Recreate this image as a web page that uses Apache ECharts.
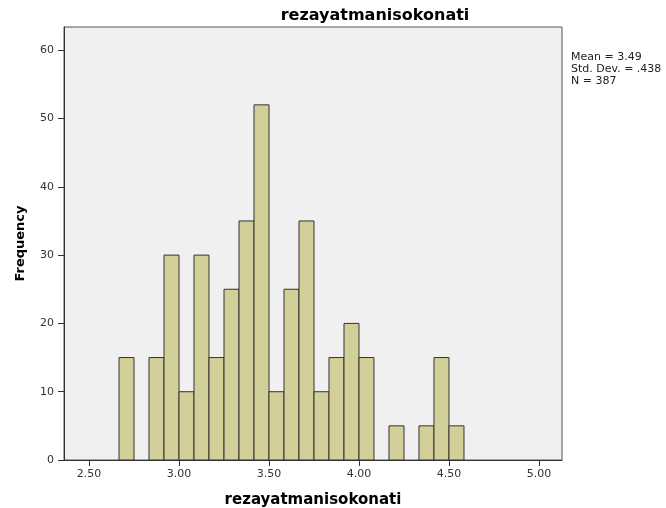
<!DOCTYPE html>
<html>
<head>
<meta charset="utf-8">
<script src="https://cdn.jsdelivr.net/npm/echarts@6/dist/echarts.min.js"></script>
<style>
  html, body { margin: 0; padding: 0; background: #fff; }
  #chart { width: 666px; height: 508px; }
</style>
</head>
<body>
<div id="chart"></div>
<script>
// histogram bins (lower edges), width 1/12
const binStarts = [2.6667, 2.8333, 2.9167, 3.0000, 3.0833, 3.1667, 3.2500, 3.3333, 3.4167, 3.5000,
                   3.5833, 3.6667, 3.7500, 3.8333, 3.9167, 4.0000, 4.1667, 4.3333, 4.4167, 4.5000];
const counts = [15, 15, 30, 10, 30, 15, 25, 35, 52, 10,
                25, 35, 10, 15, 20, 15, 5, 5, 15, 5];
const binWidth = 0.08333;
const xTicks = [2.5, 3.0, 3.5, 4.0, 4.5, 5.0];
const yTicks = [0, 10, 20, 30, 40, 50, 60];
const statLines = ['Mean = 3.49', 'Std. Dev. = .438', 'N = 387'];

const font = '"DejaVu Sans", sans-serif';
const chart = echarts.init(document.getElementById('chart'));

const barData = binStarts.map((s, i) => [s, s + binWidth, counts[i]]);

chart.setOption({
  animation: false,
  textStyle: { fontFamily: font },
  title: {
    text: 'rezayatmanisokonati',
    left: 370,
    top: 3,
    textAlign: 'center',
    textStyle: { fontSize: 16, fontWeight: 'bold', color: '#000', fontFamily: font }
  },
  graphic: [{
    type: 'text',
    left: 571,
    top: 51,
    style: {
      text: statLines.join('\n'),
      fontSize: 11,
      lineHeight: 12,
      fill: '#222',
      fontFamily: font
    }
  }],
  grid: {
    left: 64, right: 104, top: 27, bottom: 48,
    outerBoundsMode: 'none',
    show: true,
    backgroundColor: '#f0f0f0',
    borderColor: '#555',
    borderWidth: 1
  },
  xAxis: {
    type: 'value',
    min: 2.361,
    max: 5.128,
    name: 'rezayatmanisokonati',
    nameLocation: 'middle',
    nameGap: 33,
    nameTextStyle: { fontSize: 15, fontWeight: 'bold', color: '#000', fontFamily: font },
    axisLine: { show: true, lineStyle: { color: '#333', width: 1 } },
    axisTick: { show: true, length: 6, customValues: xTicks, lineStyle: { color: '#333' } },
    axisLabel: {
      customValues: xTicks,
      formatter: v => v.toFixed(2),
      fontSize: 11,
      color: '#333',
      margin: 9
    },
    splitLine: { show: false }
  },
  yAxis: {
    type: 'value',
    min: 0,
    max: 63.4,
    name: 'Frequency',
    nameLocation: 'middle',
    nameGap: 37,
    nameTextStyle: { fontSize: 13, fontWeight: 'bold', color: '#000', fontFamily: font },
    axisLine: { show: true, lineStyle: { color: '#333', width: 1 } },
    axisTick: { show: true, length: 6, customValues: yTicks, lineStyle: { color: '#333' } },
    axisLabel: { customValues: yTicks, fontSize: 11, color: '#333', margin: 10 },
    splitLine: { show: false }
  },
  series: [{
    type: 'custom',
    data: barData,
    encode: { x: [0, 1], y: 2 },
    renderItem: (params, api) => {
      const p0 = api.coord([api.value(0), 0]);
      const p1 = api.coord([api.value(1), api.value(2)]);
      return {
        type: 'rect',
        shape: { x: p0[0], y: p1[1], width: p1[0] - p0[0], height: p0[1] - p1[1] },
        style: { fill: '#d3cf98', stroke: '#333', lineWidth: 1 }
      };
    }
  }]
});
</script>
</body>
</html>
